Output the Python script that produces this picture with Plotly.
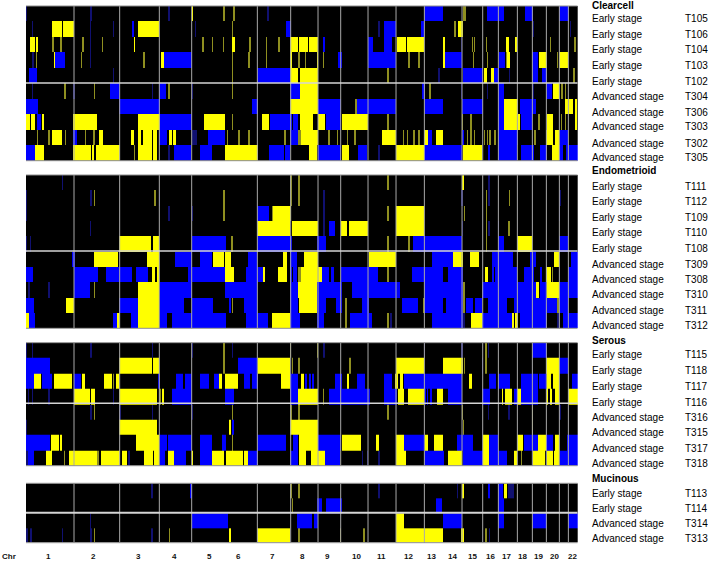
import plotly.graph_objects as go

# Positions are along the genome axis; each entry is (start, end, state).
# States: A = gain, a = narrow gain, L = loss, l = narrow loss
chrom_boundaries = [222, 359, 478, 575, 772, 872, 954, 1022, 1104, 1188, 1273, 1386, 1448, 1495, 1552, 1597, 1639, 1678, 1705]
chrom_labels = ["1","2","3","4","5","6","7","8","9","10","11","12","13","14","15","16","17","18","19","20","22"]
chrom_centers = [144,281,414,522,627,714,818,906,981,1070,1143,1226,1293,1356,1416,1470,1518,1566,1614,1662,1716]
GENOME_START, GENOME_END = 78, 1733

T105 = [(78,80,"l"),(270,275,"l"),(505,510,"l"),(575,580,"A"),(670,675,"a"),(700,704,"a"),(800,807,"l"),(1272,1328,"L"),(1390,1397,"a"),(1462,1512,"L"),(1576,1598,"L"),(1678,1706,"L")]
T106 = [(97,100,"l"),(155,187,"A"),(190,222,"A"),(270,274,"l"),(338,342,"l"),(396,402,"L"),(413,478,"A"),(585,589,"l"),(695,699,"a"),(858,873,"L"),(1135,1140,"l"),(1153,1188,"L"),(1262,1272,"L"),(1362,1368,"a"),(1373,1388,"A"),(1598,1601,"l"),(1710,1713,"l")]
T104 = [(90,104,"A"),(107,113,"A"),(155,161,"a"),(181,186,"a"),(247,252,"a"),(270,274,"l"),(305,309,"a"),(401,406,"A"),(607,611,"a"),(635,639,"a"),(668,672,"a"),(697,706,"A"),(748,752,"a"),(798,802,"a"),(835,839,"a"),(870,895,"A"),(898,925,"A"),(928,955,"A"),(970,976,"L"),(1104,1118,"L"),(1153,1176,"L"),(1190,1218,"A"),(1222,1273,"A"),(1329,1334,"A"),(1382,1386,"l"),(1415,1419,"a"),(1422,1426,"a"),(1458,1462,"a"),(1518,1526,"A"),(1546,1552,"A"),(1650,1653,"a"),(1723,1727,"a")]
T103 = [(97,103,"l"),(107,111,"a"),(161,165,"A"),(166,196,"L"),(243,247,"a"),(270,274,"l"),(430,435,"a"),(484,492,"A"),(492,575,"L"),(695,700,"a"),(745,750,"a"),(798,802,"a"),(870,876,"A"),(895,899,"a"),(915,919,"a"),(950,955,"A"),(968,972,"a"),(1014,1025,"L"),(1104,1188,"L"),(1225,1230,"a"),(1255,1260,"a"),(1329,1334,"A"),(1335,1385,"L"),(1418,1421,"a"),(1460,1464,"a"),(1498,1515,"L"),(1518,1521,"a"),(1522,1530,"A"),(1597,1615,"L"),(1618,1640,"A"),(1670,1674,"a"),(1678,1704,"A")]
T102 = [(87,110,"L"),(338,342,"l"),(695,699,"a"),(772,870,"L"),(870,895,"A"),(900,955,"A"),(1162,1167,"a"),(1315,1319,"l"),(1388,1448,"L"),(1453,1460,"A"),(1474,1482,"A"),(1482,1496,"L"),(1526,1530,"l"),(1597,1615,"L"),(1626,1640,"L"),(1720,1724,"a")]
T304 = [(97,100,"l"),(192,197,"a"),(218,225,"l"),(281,285,"a"),(330,359,"L"),(455,459,"l"),(478,497,"L"),(505,510,"a"),(575,578,"l"),(695,699,"a"),(870,900,"L"),(900,955,"A"),(1265,1275,"L"),(1288,1292,"a"),(1382,1385,"l"),(1460,1465,"l"),(1495,1512,"L"),(1597,1602,"l"),(1638,1656,"L"),(1658,1678,"A"),(1682,1688,"a"),(1695,1699,"a")]
T306 = [(78,115,"L"),(358,480,"L"),(755,773,"L"),(870,955,"A"),(955,1022,"L"),(1065,1070,"a"),(1070,1188,"L"),(1273,1328,"L"),(1386,1448,"L"),(1495,1512,"L"),(1512,1553,"A"),(1560,1608,"L"),(1695,1720,"A"),(1726,1732,"A")]
T303 = [(78,90,"A"),(92,106,"A"),(110,122,"L"),(125,131,"A"),(220,290,"A"),(413,480,"A"),(480,575,"L"),(611,675,"A"),(695,699,"a"),(785,808,"A"),(810,875,"L"),(880,895,"L"),(900,940,"A"),(953,975,"A"),(978,1022,"L"),(1025,1105,"A"),(1162,1167,"a"),(1386,1390,"a"),(1410,1415,"a"),(1495,1512,"L"),(1512,1560,"A"),(1562,1597,"L"),(1615,1619,"a"),(1642,1660,"A"),(1682,1686,"a"),(1695,1699,"a"),(1726,1732,"A")]
T302 = [(110,113,"a"),(145,149,"a"),(155,187,"A"),(195,199,"a"),(220,230,"L"),(254,258,"a"),(279,284,"a"),(298,308,"A"),(392,402,"A"),(415,422,"A"),(430,455,"A"),(460,470,"A"),(478,500,"L"),(507,515,"A"),(520,527,"A"),(575,590,"l"),(625,675,"L"),(680,684,"a"),(715,720,"a"),(745,750,"a"),(852,858,"a"),(870,895,"L"),(895,902,"a"),(902,955,"A"),(985,990,"a"),(1010,1015,"a"),(1040,1045,"a"),(1062,1067,"a"),(1147,1188,"A"),(1208,1212,"a"),(1220,1224,"a"),(1240,1245,"a"),(1255,1259,"a"),(1273,1283,"A"),(1285,1295,"L"),(1307,1330,"A"),(1385,1392,"L"),(1400,1405,"a"),(1410,1415,"a"),(1422,1426,"a"),(1452,1456,"a"),(1460,1464,"a"),(1468,1472,"a"),(1482,1488,"a"),(1495,1553,"L"),(1603,1607,"a"),(1638,1660,"A"),(1665,1678,"A"),(1680,1705,"L")]
T305 = [(78,106,"L"),(106,132,"A"),(220,272,"A"),(276,282,"A"),(288,360,"A"),(402,406,"a"),(413,455,"A"),(458,470,"A"),(505,510,"l"),(523,572,"L"),(600,636,"L"),(675,773,"A"),(806,852,"L"),(855,870,"L"),(928,950,"A"),(954,1022,"L"),(1025,1048,"A"),(1075,1100,"L"),(1135,1140,"l"),(1188,1272,"A"),(1272,1386,"L"),(1388,1447,"A"),(1465,1470,"L"),(1495,1552,"L"),(1562,1603,"L"),(1620,1640,"L"),(1655,1676,"A"),(1678,1690,"L"),(1698,1733,"L")]

T111 = [(186,190,"l"),(870,875,"a"),(895,899,"a"),(1162,1167,"a"),(1385,1391,"A"),(1465,1469,"l")]
T112 = [(78,82,"l"),(270,275,"l"),(281,285,"a"),(463,467,"a"),(476,479,"l"),(670,674,"a"),(870,875,"a"),(895,899,"a"),(970,975,"l"),(1382,1388,"l"),(1458,1462,"a"),(1465,1469,"l"),(1526,1530,"a"),(1676,1682,"l")]
T109 = [(78,82,"l"),(505,509,"l"),(575,580,"l"),(670,674,"a"),(772,808,"L"),(815,818,"a"),(820,874,"A"),(970,975,"l"),(1162,1167,"a"),(1188,1273,"A"),(1392,1396,"a"),(1458,1462,"a"),(1676,1680,"l")]
T110 = [(270,274,"l"),(772,870,"A"),(875,955,"A"),(970,976,"l"),(987,1004,"L"),(1022,1042,"A"),(1047,1104,"A"),(1188,1273,"A"),(1385,1390,"l"),(1458,1462,"a"),(1465,1469,"l"),(1495,1498,"l"),(1525,1530,"a")]
T108 = [(78,82,"l"),(90,94,"l"),(358,452,"A"),(458,478,"A"),(575,677,"L"),(693,698,"a"),(772,875,"L"),(952,977,"L"),(1162,1167,"a"),(1225,1230,"a"),(1238,1386,"L"),(1458,1462,"a"),(1495,1512,"L"),(1552,1597,"A"),(1678,1704,"L")]
T309 = [(215,225,"L"),(282,354,"A"),(440,478,"A"),(524,575,"L"),(600,637,"L"),(640,672,"A"),(675,693,"A"),(744,772,"L"),(850,860,"A"),(870,892,"L"),(913,954,"A"),(1108,1188,"A"),(1295,1360,"L"),(1360,1388,"A"),(1410,1436,"A"),(1475,1538,"L"),(1590,1608,"L"),(1662,1678,"A"),(1712,1733,"L")]
T308 = [(78,99,"L"),(222,294,"L"),(318,396,"L"),(408,444,"L"),(457,465,"A"),(470,478,"A"),(565,675,"L"),(675,702,"A"),(738,790,"L"),(790,794,"A"),(835,860,"A"),(870,875,"L"),(880,892,"L"),(895,903,"a"),(903,965,"A"),(965,988,"L"),(993,1003,"L"),(1022,1134,"L"),(1162,1167,"a"),(1235,1328,"L"),(1345,1388,"L"),(1454,1464,"A"),(1475,1482,"L"),(1485,1552,"L"),(1573,1603,"L"),(1620,1627,"L"),(1638,1652,"A"),(1655,1660,"a"),(1703,1733,"L")]
T310 = [(85,90,"l"),(145,149,"l"),(222,270,"L"),(281,285,"a"),(413,478,"A"),(480,575,"L"),(675,772,"L"),(870,895,"L"),(895,952,"A"),(952,1025,"L"),(1056,1200,"L"),(1273,1390,"L"),(1390,1396,"a"),(1445,1608,"L"),(1608,1617,"A"),(1620,1638,"L"),(1640,1676,"A"),(1678,1733,"L")]
T311 = [(78,103,"L"),(197,222,"A"),(358,414,"L"),(414,478,"A"),(480,552,"L"),(575,640,"L"),(688,692,"L"),(695,698,"a"),(732,770,"L"),(870,895,"L"),(898,952,"A"),(952,977,"L"),(1007,1025,"L"),(1036,1040,"a"),(1085,1106,"L"),(1205,1253,"L"),(1268,1272,"a"),(1273,1328,"L"),(1338,1388,"L"),(1390,1395,"a"),(1397,1418,"L"),(1425,1445,"L"),(1465,1522,"L"),(1542,1552,"L"),(1552,1670,"L"),(1670,1676,"a"),(1678,1705,"L")]
T312 = [(78,88,"A"),(88,105,"L"),(338,350,"L"),(350,360,"A"),(392,414,"L"),(414,478,"A"),(480,500,"L"),(515,677,"L"),(738,805,"L"),(815,870,"A"),(870,900,"L"),(952,972,"L"),(1035,1040,"a"),(1050,1116,"L"),(1162,1167,"a"),(1170,1175,"l"),(1295,1388,"L"),(1390,1395,"l"),(1412,1445,"A"),(1445,1535,"L"),(1535,1542,"A"),(1545,1555,"A"),(1560,1640,"L"),(1670,1680,"l"),(1690,1733,"L")]

T115 = [(78,82,"l"),(95,99,"l"),(270,275,"l"),(455,459,"l"),(575,580,"l"),(670,674,"a"),(695,699,"l"),(870,874,"a"),(950,954,"a"),(970,974,"l"),(1273,1276,"l"),(1383,1390,"l"),(1455,1460,"a"),(1465,1468,"l"),(1596,1640,"L")]
T118 = [(78,150,"L"),(358,455,"A"),(458,478,"A"),(670,674,"a"),(715,772,"L"),(775,870,"A"),(875,880,"a"),(893,899,"a"),(1048,1053,"a"),(1188,1273,"A"),(1328,1388,"A"),(1392,1396,"a"),(1445,1449,"l"),(1455,1460,"a"),(1638,1676,"A"),(1678,1704,"L")]
T117 = [(78,102,"L"),(103,123,"A"),(125,155,"L"),(162,217,"A"),(221,243,"L"),(245,254,"A"),(313,336,"A"),(338,342,"a"),(348,358,"A"),(474,480,"L"),(528,548,"L"),(556,576,"L"),(600,628,"L"),(642,658,"L"),(658,667,"A"),(675,713,"A"),(732,750,"L"),(755,773,"L"),(843,870,"A"),(870,895,"L"),(902,912,"A"),(915,920,"L"),(928,932,"L"),(936,942,"L"),(1006,1025,"L"),(1040,1048,"A"),(1070,1094,"L"),(1153,1176,"L"),(1185,1195,"A"),(1200,1208,"A"),(1212,1386,"L"),(1407,1417,"A"),(1467,1488,"L"),(1495,1530,"L"),(1564,1615,"L"),(1618,1638,"L"),(1640,1653,"A"),(1658,1678,"A"),(1716,1733,"L")]
T116 = [(85,88,"l"),(95,99,"l"),(145,149,"l"),(222,270,"A"),(272,286,"A"),(338,342,"l"),(358,472,"A"),(478,482,"a"),(485,491,"A"),(515,575,"L"),(675,702,"L"),(870,895,"L"),(895,955,"A"),(968,972,"a"),(987,1110,"L"),(1152,1190,"L"),(1195,1212,"A"),(1225,1272,"A"),(1275,1278,"L"),(1280,1285,"L"),(1290,1295,"L"),(1312,1330,"A"),(1345,1386,"L"),(1445,1470,"L"),(1507,1510,"A"),(1515,1535,"A"),(1542,1552,"L"),(1552,1562,"A"),(1562,1615,"L"),(1638,1645,"A"),(1650,1655,"A"),(1665,1678,"A"),(1703,1733,"A")]
T316 = [(270,275,"l"),(281,285,"a"),(358,362,"l"),(455,459,"l"),(575,580,"l"),(695,699,"a"),(870,875,"a"),(895,899,"a"),(1162,1167,"a"),(1385,1390,"a"),(1465,1468,"l"),(1525,1529,"l"),(1595,1599,"a"),(1678,1682,"l")]
T315 = [(78,80,"l"),(358,472,"A"),(688,693,"A"),(697,702,"L"),(870,955,"A"),(1388,1392,"a"),(1595,1599,"a")]
T317 = [(78,150,"L"),(152,177,"A"),(180,187,"A"),(408,478,"A"),(480,500,"L"),(505,575,"L"),(600,635,"L"),(665,677,"L"),(695,699,"a"),(772,858,"L"),(878,895,"L"),(898,955,"A"),(955,1022,"L"),(1025,1082,"A"),(1128,1138,"A"),(1188,1212,"A"),(1212,1272,"L"),(1275,1283,"A"),(1302,1328,"A"),(1370,1418,"L"),(1450,1468,"A"),(1468,1495,"L"),(1552,1568,"A"),(1572,1613,"L"),(1615,1638,"A"),(1638,1658,"L"),(1665,1676,"A"),(1700,1733,"L")]
T318 = [(78,84,"l"),(85,103,"L"),(138,155,"A"),(192,196,"a"),(207,290,"A"),(292,296,"a"),(302,360,"A"),(366,382,"A"),(385,390,"l"),(433,458,"A"),(463,476,"A"),(480,495,"L"),(503,522,"A"),(522,558,"L"),(575,579,"A"),(600,636,"L"),(636,672,"A"),(677,730,"A"),(733,745,"A"),(745,773,"L"),(870,893,"L"),(898,918,"A"),(932,955,"A"),(955,974,"A"),(974,1020,"L"),(1085,1090,"l"),(1100,1105,"l"),(1135,1140,"l"),(1188,1218,"A"),(1272,1332,"L"),(1345,1386,"A"),(1388,1448,"L"),(1450,1468,"A"),(1468,1522,"L"),(1542,1552,"A"),(1562,1566,"a"),(1600,1635,"A"),(1640,1660,"A"),(1662,1676,"A"),(1680,1733,"L")]

T113 = [(452,458,"l"),(570,576,"L"),(870,875,"a"),(895,899,"a"),(1135,1139,"l"),(1370,1374,"l"),(1385,1391,"A"),(1465,1470,"L"),(1495,1510,"L"),(1512,1522,"A"),(1525,1542,"l")]
T114 = [(875,878,"a"),(952,967,"L"),(977,1025,"L"),(1308,1326,"L"),(1495,1512,"L")]
T314 = [(270,274,"l"),(575,684,"L"),(892,935,"L"),(942,954,"L"),(1188,1212,"A"),(1328,1386,"L"),(1495,1512,"L"),(1596,1640,"L"),(1703,1733,"L")]
T313 = [(78,83,"l"),(90,95,"l"),(186,190,"l"),(270,275,"l"),(281,285,"a"),(452,458,"l"),(507,510,"a"),(687,693,"A"),(772,870,"A"),(895,899,"a"),(1020,1024,"a"),(1090,1094,"a"),(1188,1328,"A"),(1383,1391,"A"),(1455,1460,"a"),(1466,1470,"l")]

STATE_VALUE = {"L": -1.0, "l": -0.5, "a": 0.5, "A": 1.0}
EARLY, ADV = "Early stage", "Advanced stage"

panels = [
    dict(title="Clearcell", top=6, bottom=160.7, sep=83, title_y=5,
         samples=[("T105",T105,EARLY),("T106",T106,EARLY),("T104",T104,EARLY),("T103",T103,EARLY),("T102",T102,EARLY),
                  ("T304",T304,ADV),("T306",T306,ADV),("T303",T303,ADV),("T302",T302,ADV),("T305",T305,ADV)],
         label_y=[19,34,49,65,81,96,112,127,143,158]),
    dict(title="Endometrioid", top=175, bottom=328.3, sep=251, title_y=171,
         samples=[("T111",T111,EARLY),("T112",T112,EARLY),("T109",T109,EARLY),("T110",T110,EARLY),("T108",T108,EARLY),
                  ("T309",T309,ADV),("T308",T308,ADV),("T310",T310,ADV),("T311",T311,ADV),("T312",T312,ADV)],
         label_y=[186,202,217,233,248,264,279,294,310,325]),
    dict(title="Serous", top=342.7, bottom=465.7, sep=403.3, title_y=340,
         samples=[("T115",T115,EARLY),("T118",T118,EARLY),("T117",T117,EARLY),("T116",T116,EARLY),
                  ("T316",T316,ADV),("T315",T315,ADV),("T317",T317,ADV),("T318",T318,ADV)],
         label_y=[355,370,386,402,417,432,448,463]),
    dict(title="Mucinous", top=483.3, bottom=542.7, sep=512.7, title_y=478,
         samples=[("T113",T113,EARLY),("T114",T114,EARLY),("T314",T314,ADV),("T313",T313,ADV)],
         label_y=[493,508,523,538]),
]

W, H = 709, 563
LEFT, RIGHT = 26, 577.7
FONT = "Liberation Sans, Arial, sans-serif"
px = lambda x: x / W
py = lambda y: 1 - y / H

fig = go.Figure()
annotations = []
shapes = []

for i, p in enumerate(panels, start=1):
    ax = "" if i == 1 else str(i)
    rows = p["samples"]
    edges = {GENOME_START, GENOME_END}
    for _, segs, _ in rows:
        for s, e, _st in segs:
            edges.update((s, e))
    edges = sorted(edges)
    z = []
    for _, segs, _ in rows:
        line = [0.0] * (len(edges) - 1)
        for s, e, st in segs:
            for k in range(len(edges) - 1):
                if edges[k] >= s and edges[k + 1] <= e:
                    line[k] = STATE_VALUE[st]
        z.append(line)
    fig.add_trace(go.Heatmap(
        x=edges, y=[r[0] for r in rows], z=z, zmin=-1, zmax=1, showscale=False, hoverinfo="skip",
        colorscale=[[0, "#0000ff"], [0.25, "#101070"], [0.5, "#000000"], [0.75, "#8f8f20"], [1, "#ffff00"]],
        xaxis=f"x{ax}", yaxis=f"y{ax}"))
    fig.update_layout({
        f"xaxis{ax}": dict(domain=[px(LEFT), px(RIGHT)], range=[GENOME_START, GENOME_END], visible=False, anchor=f"y{ax}"),
        f"yaxis{ax}": dict(domain=[py(p["bottom"]), py(p["top"])], autorange="reversed", visible=False,
                           type="category", anchor=f"x{ax}"),
    })
    xref = f"x{ax}"
    for b in chrom_boundaries:
        shapes.append(dict(type="line", xref=xref, yref=f"y{ax} domain", x0=b, x1=b, y0=0, y1=1,
                           line=dict(color="#a9a9a9", width=1)))
    for yy, col, w in [(p["top"], "#8c8c8c", 1), (p["bottom"], "#8c8c8c", 1), (p["sep"], "#d4d4d4", 2 if i == 4 else 1.5)]:
        shapes.append(dict(type="line", xref=xref, yref="paper", x0=GENOME_START, x1=GENOME_END,
                           y0=py(yy), y1=py(yy), line=dict(color=col, width=w)))
    annotations.append(dict(text=f"<b>{p['title']}</b>", x=px(590), y=py(p["title_y"]), xref="paper", yref="paper",
                            xanchor="left", yanchor="middle", showarrow=False, font=dict(size=10, color="black", family=FONT)))
    for (name, _, stage), ly in zip(rows, p["label_y"]):
        annotations.append(dict(text=stage, x=px(590), y=py(ly), xref="paper", yref="paper", xanchor="left",
                                yanchor="middle", showarrow=False, font=dict(size=10, color="black", family=FONT)))
        annotations.append(dict(text=name, x=px(683), y=py(ly), xref="paper", yref="paper", xanchor="left",
                                yanchor="middle", showarrow=False, font=dict(size=10, color="black", family=FONT)))

for lab, c in zip(chrom_labels, chrom_centers):
    annotations.append(dict(text=f"<b>{lab}</b>", x=c, y=py(556), xref="x4", yref="paper", xanchor="center",
                            yanchor="middle", showarrow=False, font=dict(size=8, color="#111", family=FONT)))
annotations.append(dict(text="<b>Chr</b>", x=0, y=py(556), xref="paper", yref="paper", xanchor="left",
                        yanchor="middle", showarrow=False, font=dict(size=8, color="#111", family=FONT)))

fig.update_layout(width=W, height=H, margin=dict(l=0, r=0, t=0, b=0), paper_bgcolor="white", plot_bgcolor="white",
                  showlegend=False, annotations=annotations, shapes=shapes)
fig.write_html("out.html", config={"displayModeBar": False},
               post_script="document.body.style.margin='0';document.body.style.overflow='hidden';")
